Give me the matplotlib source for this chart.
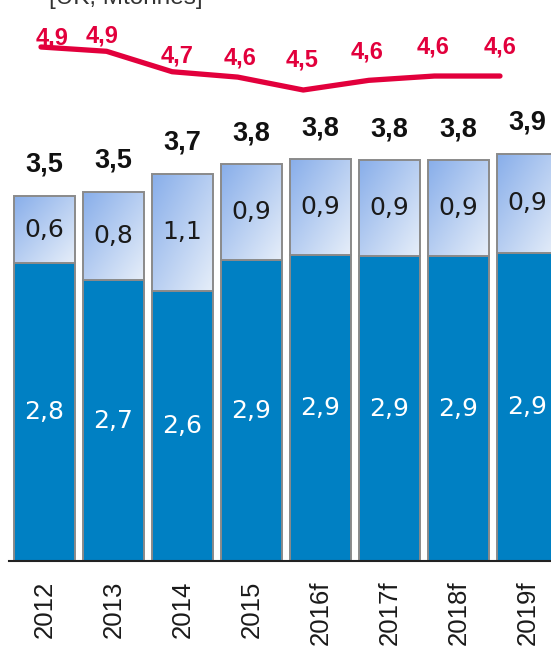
import numpy as np
import matplotlib
matplotlib.use("Agg")
import matplotlib.pyplot as plt
from matplotlib.colors import to_rgb

# ---- data ----
years = ["2012", "2013", "2014", "2015", "2016f", "2017f", "2018f", "2019f"]
base_values = [2.82, 2.66, 2.56, 2.85, 2.90, 2.89, 2.89, 2.92]
top_values = [0.64, 0.84, 1.11, 0.91, 0.91, 0.91, 0.91, 0.94]
line_values = [4.90, 4.86, 4.67, 4.62, 4.50, 4.59, 4.63, 4.63]
unit_label = "[UK, Mtonnes]"

# ---- style ----
line_label_offsets = [(11, 2), (-5, 9), (5, 9), (2, 13), (-1, 23), (-2, 22), (-1, 23), (0, 23)]
dark_blue = "#0080C3"
grad_dark = "#88AEEA"
grad_light = "#E6EEF9"
edge_col = "#8A8A8A"
red = "#E2003C"
bold_font = "Liberation Sans"
inner_font = "DejaVu Sans"
tick_font = "Liberation Sans"

def fmt(v):
    return f"{v:.1f}".replace(".", ",")

W, H = 551, 647
fig = plt.figure(figsize=(W / 100, H / 100), dpi=100)
rect = [9 / W, 86 / H, 542 / W, 561 / H]
ax = fig.add_axes(rect)

x = np.arange(len(years))
bw = 61 / 69

ax.bar(x, base_values, width=bw, color=dark_blue, edgecolor=edge_col, linewidth=1.4, zorder=2)

# gradient image
n = 64
u, v = np.meshgrid(np.linspace(0, 1, n), np.linspace(0, 1, n))
t = np.clip((u + v) / 2, 0, 1)
c0, c1 = np.array(to_rgb(grad_dark)), np.array(to_rgb(grad_light))
img = c0[None, None, :] * (1 - t[..., None]) + c1[None, None, :] * t[..., None]

tops = ax.bar(x, top_values, bottom=base_values, width=bw, color="none",
              edgecolor=edge_col, linewidth=1.4, zorder=4)
for patch in tops:
    x0, y0 = patch.get_x(), patch.get_y()
    w, h = patch.get_width(), patch.get_height()
    im = ax.imshow(img, extent=[x0, x0 + w, y0, y0 + h], aspect="auto",
                   origin="upper", zorder=3, interpolation="bilinear")
    im.set_clip_path(patch)

for i in range(len(years)):
    b, tv = base_values[i], top_values[i]
    ax.text(x[i], b / 2, fmt(b), ha="center", va="center", color="white",
            fontsize=18, family=inner_font, zorder=5)
    ax.text(x[i], b + tv / 2, fmt(tv), ha="center", va="center", color="#1A1A1A",
            fontsize=18, family=inner_font, zorder=5)
    ax.annotate(fmt(b + tv), (x[i], b + tv), xytext=(0, 24), textcoords="offset pixels",
                ha="center", va="baseline", color="#111111", fontsize=19.5,
                family=bold_font, fontweight="bold", zorder=5)

ax.set_xlim(-0.5145, -0.5145 + 542 / 69)
ax.set_ylim(0, 561 / 105.5)
ax.set_xticks(x)
ax.set_xticklabels(years, rotation=90, fontsize=18.5, family=tick_font, color="#1A1A1A")
ax.tick_params(axis="x", length=0, pad=14)
ax.set_yticks([])
for s in ["top", "right", "left"]:
    ax.spines[s].set_visible(False)
ax.spines["bottom"].set_color("#222222")
ax.spines["bottom"].set_linewidth(1.5)
ax.set_facecolor("none")

# line on its own axes
ax2 = fig.add_axes(rect, frameon=False)
ax2.plot(x, line_values, color=red, linewidth=3.8, solid_capstyle="round",
         solid_joinstyle="round", zorder=6)
for i, val in enumerate(line_values):
    ax2.annotate(fmt(val), (x[i], val), xytext=line_label_offsets[i], textcoords="offset pixels",
                 ha="center", va="baseline", color=red, fontsize=17,
                 family=bold_font, fontweight="bold")
ax2.set_xlim(-0.488, 7.778)
ax2.set_ylim(4.9 - 514 / 107.5, 4.9 + 47 / 107.5)
ax2.axis("off")

fig.text(49 / W, 1 - 4 / H, unit_label, ha="left", va="baseline", fontsize=17.5,
         family=tick_font, color="#333333")

fig.savefig("out.png", dpi=100)
